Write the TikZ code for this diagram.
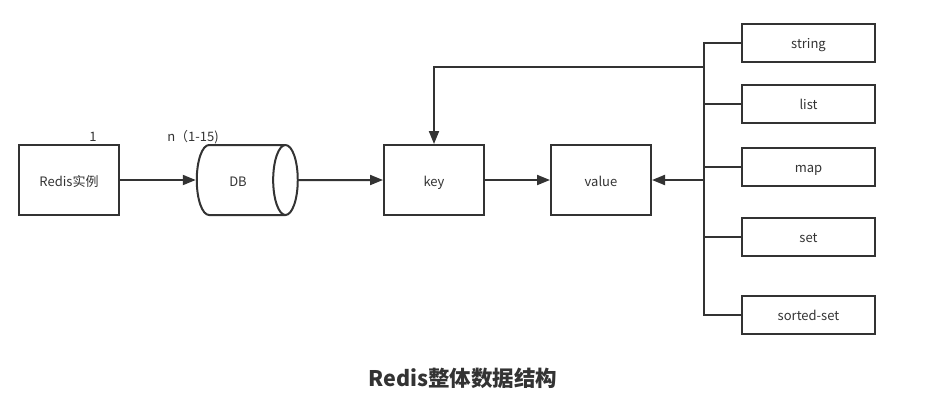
\documentclass[tikz,border=0pt]{standalone}
\usepackage{fontspec}
\setmainfont{Noto Sans CJK SC}
\usetikzlibrary{arrows.meta, positioning, shapes.geometric}
\definecolor{ink}{RGB}{51,51,51}

\begin{document}
\begin{tikzpicture}[x=1pt, y=-1pt,
    box/.style={draw=ink, line width=2pt, minimum width=100pt, minimum height=70pt, text height=13pt, text depth=0pt, font=\fontsize{13}{15}\selectfont, text=ink},
    typebox/.style={draw=ink, line width=2pt, minimum width=133pt, minimum height=38pt, text height=11pt, text depth=0pt, font=\fontsize{13}{15}\selectfont, text=ink},
    link/.style={draw=ink, line width=2pt},
    arr/.style={link, -{Triangle[length=13pt, width=10pt]}}
]
    \useasboundingbox (0,0) rectangle (936,408);

    % Redis instance and its databases
    \node[box] (redis) at (69,180) {Redis实例};
    \node[box, shape=cylinder, aspect=1.25, minimum width=70pt, minimum height=101pt] (db) at (238,180) {DB};
    \node[font=\fontsize{13}{15}\selectfont, text=ink] (one) at (93,137) {1};
    \node[font=\fontsize{13}{15}\selectfont, text=ink] (many) at (193,137) {n（1-15)};

    % key and value
    \node[box] (key) at (434,180) {key};
    \node[box] (value) at (601,180) {value};

    % Value types
    \node[typebox] (string) at (808.5,43) {string};
    \node[typebox] (list) at (808.5,104) {list};
    \node[typebox] (map) at (808.5,167) {map};
    \node[typebox] (set) at (808.5,237) {set};
    \node[typebox] (sorted) at (808.5,315) {sorted-set};

    % Bus on the left of the types
    \coordinate (bus) at (704,180);
    \coordinate (turn) at (704,67);
    \draw[link] (string.west) -- (string.west -| bus) -- (sorted.west -| bus) -- (sorted.west);
    \draw[link] (list.west) -- (list.west -| bus);
    \draw[link] (map.west) -- (map.west -| bus);
    \draw[link] (set.west) -- (set.west -| bus);

    % Arrows
    \draw[arr] (redis.east) -- (db.west);
    \draw[arr] (db.east) -- (key.west);
    \draw[arr] (key.east) -- (value.west);
    \draw[arr] (bus) -- (value.east);
    \draw[arr] (turn) -| (key.north);

    % Title
    \node[font=\fontsize{21.5}{26}\selectfont\bfseries, text=ink] (title) at (463,378) {Redis整体数据结构};
\end{tikzpicture}
\end{document}
